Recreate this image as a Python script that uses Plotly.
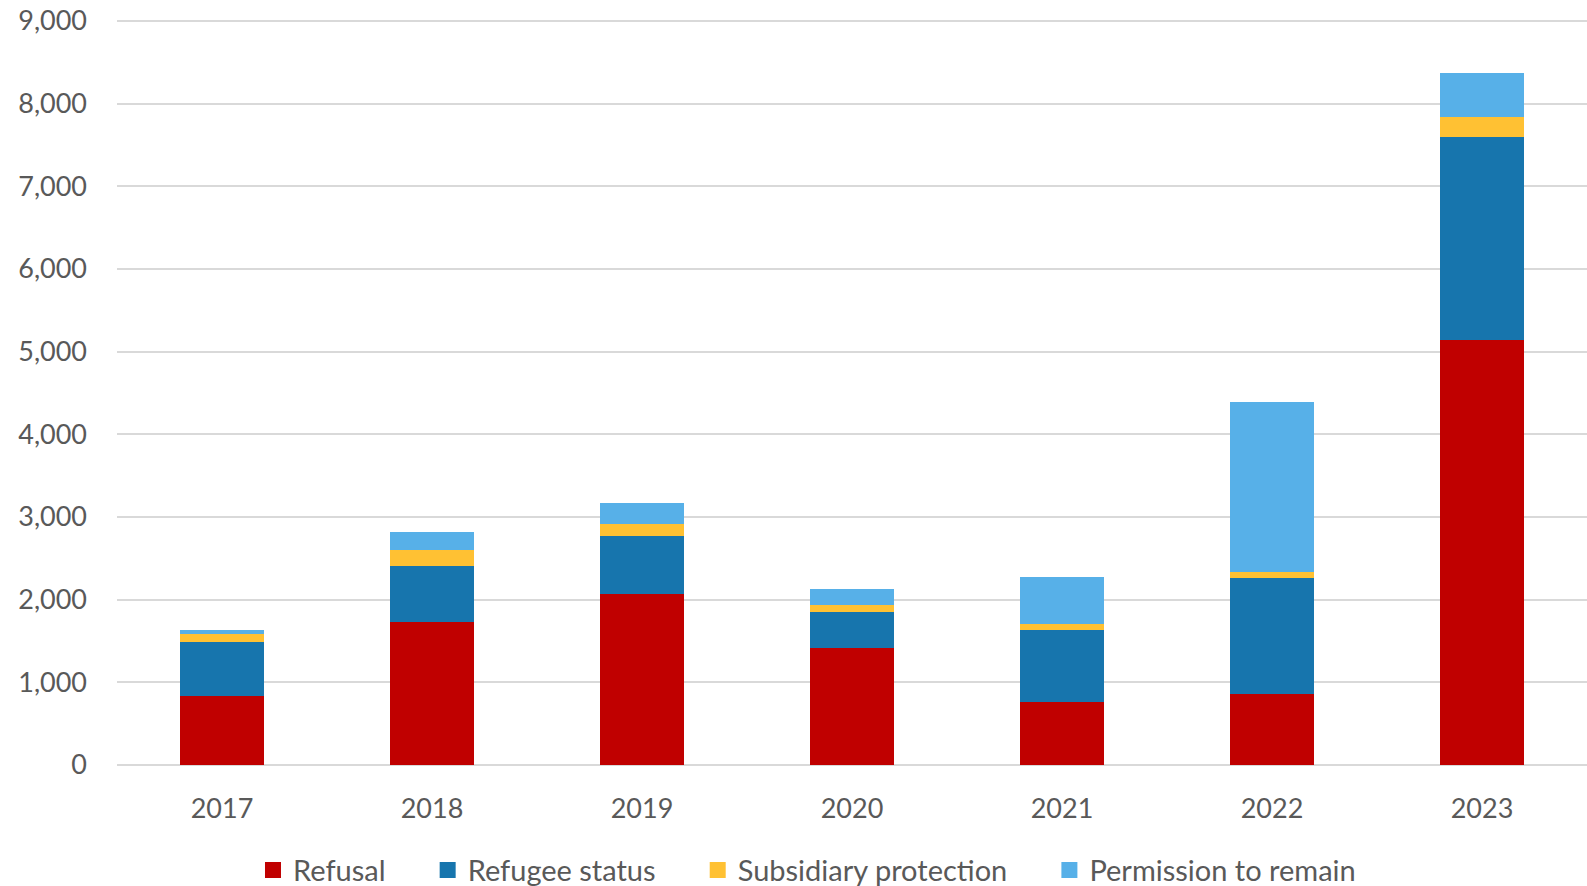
import plotly.graph_objects as go

years = ["2017", "2018", "2019", "2020", "2021", "2022", "2023"]
refusal = [830, 1725, 2065, 1415, 760, 860, 5135]
refugee_status = [655, 680, 700, 430, 870, 1400, 2465]
subsidiary = [95, 195, 145, 95, 70, 75, 240]
permission = [50, 215, 265, 195, 580, 2055, 530]
y_ticks = [0, 1000, 2000, 3000, 4000, 5000, 6000, 7000, 8000, 9000]

series = [
    ("Refusal", refusal, "#C00000"),
    ("Refugee status", refugee_status, "#1775AD"),
    ("Subsidiary protection", subsidiary, "#FFC133"),
    ("Permission to remain", permission, "#57B0E8"),
]

PAD = "\u00a0" * 5

fig = go.Figure()
for name, vals, col in series:
    fig.add_trace(go.Bar(x=years, y=vals, name=name, marker_color=col,
                         marker_line_width=0, legendgroup=name, showlegend=False,
                         hoverinfo="x+y+name"))
for i, (name, vals, col) in enumerate(series):
    label = name + (PAD if i < len(series) - 1 else "")
    fig.add_trace(go.Scatter(x=[years[0]], y=[None], mode="markers", name=label,
                             legendgroup=name,
                             marker=dict(symbol="square", size=17, color=col),
                             hoverinfo="skip"))

font_family = "Lato, 'Open Sans', sans-serif"
fig.update_layout(
    barmode="stack",
    bargap=0.6,
    width=1587, height=886,
    margin=dict(l=117, r=0, t=18, b=121, pad=0, autoexpand=False),
    plot_bgcolor="white", paper_bgcolor="white",
    font=dict(family=font_family, size=27, color="#595959"),
    legend=dict(orientation="h", xref="container", x=0.5085, xanchor="center",
                yref="container", y=0.018, yanchor="middle",
                font=dict(size=29, color="#595959"), itemwidth=30,
                traceorder="normal", itemsizing="trace"),
    showlegend=True,
)
fig.update_yaxes(range=[0, 9036], tickvals=y_ticks, automargin=False,
                 tickformat=",d", showgrid=True, gridcolor="#D9D9D9", gridwidth=1.5,
                 zeroline=True, zerolinecolor="#D9D9D9", zerolinewidth=1.5,
                 showline=False, ticks="", ticklabelstandoff=29,
                 ticklabeloverflow="allow",
                 tickfont=dict(size=27, color="#595959"))
fig.update_xaxes(showgrid=False, showline=False, ticks="", ticklabelstandoff=25,
                 automargin=False,
                 tickfont=dict(size=27, color="#595959"))

fig.write_html("out.html",
               config={"displayModeBar": False},
               post_script="document.body.style.margin='0';document.body.style.overflow='hidden';")
